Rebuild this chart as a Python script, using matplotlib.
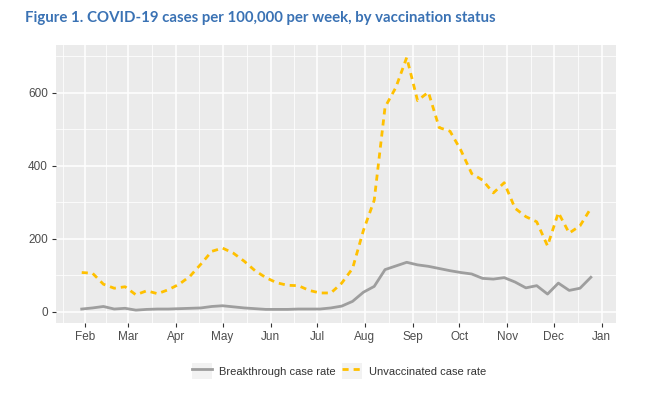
import numpy as np
import pandas as pd
import matplotlib
matplotlib.use("Agg")
import matplotlib.pyplot as plt
from matplotlib.patches import Rectangle
from matplotlib.lines import Line2D
from matplotlib.legend_handler import HandlerTuple

# weekly rates per 100,000
weeks = pd.date_range("2021-01-30", periods=48, freq="7D")
breakthrough = [7, 10, 14, 7, 9, 4, 6, 7, 7, 8, 9, 10, 14, 16, 13, 10,
                8, 6, 6, 6, 7, 7, 7, 10, 15, 28, 53, 69, 115, 125, 135, 128,
                124, 118, 112, 107, 103, 91, 89, 93, 81, 65, 71, 48, 78, 58, 64, 94]
unvaccinated = [107, 105, 75, 64, 68, 46, 57, 49, 60, 75, 97, 130, 165, 174, 160, 138,
                112, 93, 79, 72, 71, 58, 51, 51, 78, 118, 222, 305, 560, 614, 696, 578,
                601, 504, 494, 442, 378, 360, 325, 353, 283, 260, 246, 180, 271, 215, 235, 283]
month_labels = ["Feb", "Mar", "Apr", "May", "Jun", "Jul", "Aug", "Sep", "Oct", "Nov", "Dec", "Jan"]

plt.rcParams["font.family"] = ["Liberation Sans", "DejaVu Sans"]

fig = plt.figure(figsize=(6.62, 3.97), dpi=100)
ax = fig.add_axes([0.085, 0.187, 0.846, 0.700])
ax.set_facecolor("#EBEBEB")

grey = "#9E9E9E"
gold = "#FFC000"
dash = (0, (2.2, 1.8))
ax.plot(weeks, breakthrough, color=grey, lw=2.0)
ax.plot(weeks, unvaccinated, color=gold, lw=2.0, ls=dash)

span = weeks[-1] - weeks[0]
ax.set_xlim(weeks[0] - span * 0.05, weeks[-1] + span * 0.05)
lo, hi = min(breakthrough), max(unvaccinated)
ax.set_ylim(lo - (hi - lo) * 0.05, hi + (hi - lo) * 0.05)

majors = pd.date_range("2021-02-01", "2022-01-01", freq="MS")
ax.set_xticks(majors)
ax.set_xticklabels(month_labels)
minors = majors[:-1] + (majors[1:] - majors[:-1]) / 2
minors = minors.append(pd.DatetimeIndex([majors[0] - (majors[1] - majors[0]) / 2]))
ax.set_xticks(minors, minor=True)
ax.set_yticks([0, 200, 400, 600])
ax.set_yticks([100, 300, 500, 700], minor=True)

ax.grid(which="major", color="white", lw=1.1)
ax.grid(which="minor", color="white", lw=0.55)
ax.set_axisbelow(True)
for s in ax.spines.values():
    s.set_visible(False)
ax.tick_params(which="major", length=3, width=0.8, color="#333333",
               labelcolor="#4D4D4D", labelsize=8.5, pad=3)
ax.tick_params(which="minor", length=0)

fig.text(0.038, 0.955, "Figure 1. COVID-19 cases per 100,000 per week, by vaccination status",
         color="#3A72B4", fontsize=10.8, fontweight="bold", family="Lato", va="center")

# legend keys sit on small grey squares, like ggplot
key_bg = dict(facecolor="#F2F2F2", edgecolor="none")
handles = [(Rectangle((0, 0), 1, 1, **key_bg), Line2D([], [], color=grey, lw=2.0)),
           (Rectangle((0, 0), 1, 1, **key_bg), Line2D([], [], color=gold, lw=2.0, ls=dash))]
labels = ["Breakthrough case rate", "Unvaccinated case rate"]
leg = fig.legend(handles, labels, loc="center", bbox_to_anchor=(0.512, 0.065), ncol=2,
                 frameon=False, fontsize=8, handlelength=1.8, handleheight=1.8,
                 columnspacing=0.6, handletextpad=0.6,
                 handler_map={tuple: HandlerTuple(ndivide=1)})
for t in leg.get_texts():
    t.set_color("#333333")

fig.savefig("out.png", dpi=100)
